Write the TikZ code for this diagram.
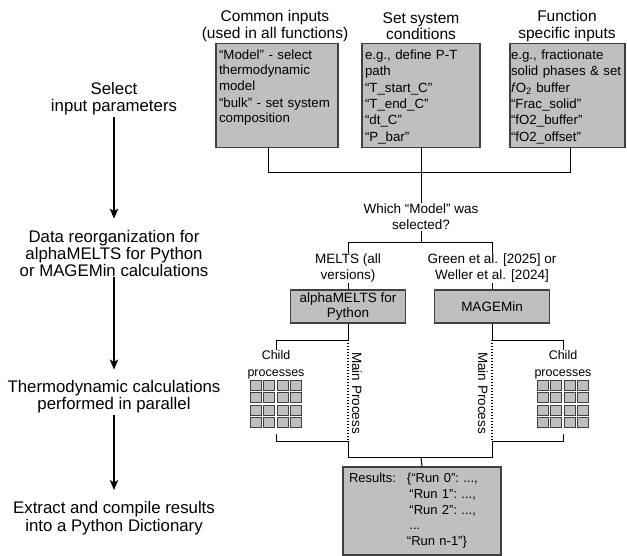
\documentclass[tikz,border=0pt]{standalone}
\usepackage{fontspec}
\setmainfont{Liberation Sans}
\usetikzlibrary{arrows.meta,positioning}

\begin{document}
\begin{tikzpicture}[x=1pt,y=-1pt,
        head/.style={align=center,inner sep=1pt,font=\fontsize{15.5}{16.5}\selectfont},
        step text/.style={align=center,inner sep=1pt,font=\fontsize{16.8}{17}\selectfont},
        lbl/.style={align=center,inner sep=0.5pt,font=\fontsize{13.5}{16}\selectfont},
        inputbox/.style={draw=black!75,line width=1.3pt,fill=gray!50,align=left,anchor=north,
            inner xsep=3pt,inner ysep=3pt,text height=13pt,text depth=85pt,
            font=\fontsize{13.3}{16.3}\selectfont},
        codebox/.style={draw=black!75,line width=1.3pt,fill=gray!50,align=center,
            minimum width=115pt,minimum height=33pt,inner sep=1pt,font=\fontsize{13.5}{15}\selectfont},
        cell/.style={draw=black!75,line width=1pt,fill=gray!50,minimum width=11pt,
            minimum height=10pt,inner sep=0pt},
        flow/.style={-{Stealth[length=10pt,width=8.5pt,inset=2.5pt]},line width=1.3pt,shorten >=10pt},
        wire/.style={line width=1pt}]
    \useasboundingbox (0,0) rectangle (627,556);

    % left column: the steps
    \node[step text] (sel) at (114,99) {Select\\input parameters};
    \node[step text] (reorg) at (114,253) {Data reorganization for\\alphaMELTS for Python\\or MAGEMin calculations};
    \node[step text] (thermo) at (114,397) {Thermodynamic calculations\\performed in parallel};
    \node[step text] (extract) at (114,518) {Extract and compile results\\[1pt]into a Python Dictionary};
    \draw[flow] (sel.south) -- (reorg.north);
    \draw[flow] (reorg.south) -- (thermo.north);
    \draw[flow] (thermo.south) -- (extract.north);

    % inputs
    \node[head] (common) at (275,26) {Common inputs\\(used in all functions)};
    \node[head] (system) at (421,26) {Set system\\conditions};
    \node[head] (special) at (567,26) {Function\\specific inputs};
    \node[inputbox,text width=116pt,font=\fontsize{13.3}{15.2}\selectfont] (box1) at (277,43)
        {“Model” - select\\thermodynamic\\model\\[2.5pt]“bulk” - set system\\composition};
    \node[inputbox,text width=112pt] (box2) at (421,43)
        {e.g., define P-T\\path\\“T\_start\_C”\\“T\_end\_C”\\“dt\_C”\\“P\_bar”};
    \node[inputbox,text width=113pt,inner xsep=1pt] (box3) at (567.5,43)
        {e.g., fractionate\\solid phases \& set\\\textit{f}O\textsubscript{2} buffer\\“Frac\_solid”\\“fO2\_buffer”\\“fO2\_offset”};

    \coordinate (j1) at (268,173);
    \coordinate (j3) at (570,173);
    \draw[wire] (box1.south -| j1) -- (j1) -- (j3) -- (box3.south -| j3);

    % which model
    \node[lbl] (which) at (421,217) {Which “Model” was\\selected?};
    \draw[wire] (box2.south) -- (which.north);
    \coordinate (jm) at (421,243);
    \coordinate (jl) at (348,243);
    \coordinate (jr) at (492,243);
    \node[lbl] (melts) at (348,268) {MELTS (all\\versions)};
    \node[lbl] (green) at (492,268) {Green et al. [2025] or\\Weller et al. [2024]};
    \draw[wire] (which.south) -- (jm);
    \draw[wire] (melts.north) -- (jl) -- (jr) -- (green.north);
    \node[codebox] (amp) at (348,306.5) {alphaMELTS for\\Python};
    \node[codebox] (mag) at (492,306.5) {MAGEMin};
    \draw[wire] (melts.south) -- (amp.north);
    \draw[wire] (green.south) -- (mag.north);

    % child processes
    \node[lbl,font=\fontsize{12.5}{16.5}\selectfont] (childl) at (276,365) {Child\\processes};
    \node[lbl,font=\fontsize{12.5}{16.5}\selectfont] (childr) at (563,365) {Child\\processes};
    \foreach \i in {0,...,3}
        \foreach \j in {0,...,3} {
            \node[cell] (gl\i\j) at (255.75+13.5*\i,385+12.5*\j) {};
            \node[cell] (gr\i\j) at (542.75+13.5*\i,385+12.5*\j) {};
        }
    \coordinate (al) at (348,340);
    \coordinate (cl) at (276,340);
    \coordinate (ar) at (492,340);
    \coordinate (cr) at (563,340);
    \draw[wire] (amp.south) -- (al) -- (cl) -- (childl.north);
    \draw[wire] (mag.south) -- (ar) -- (cr) -- (childr.north);
    \draw[wire,dotted,line width=1.2pt] (al) -- (348,441);
    \draw[wire,dotted,line width=1.2pt] (ar) -- (492,441);
    \node[lbl,rotate=-90] (mainl) at (357,393) {Main Process};
    \node[lbl,rotate=-90] (mainr) at (483,393) {Main Process};

    % results
    \coordinate (bl) at (348,457);
    \coordinate (br) at (492,457);
    \coordinate (bm) at (421,457);
    \draw[wire] (276,434) |- (348,441) -- (bl) -- (br) -- (492,441) -| (563,434);
    \node[codebox,minimum height=88pt,text width=146pt,inner xsep=6pt,align=left,
            font=\fontsize{13}{15.75}\selectfont\frenchspacing] (res) at (422,511)
        {\begin{tabular}{@{}l@{\hspace{11pt}}l@{}}
            Results: & \{“Run 0”: ...,\\
                     & \hspace{2.5pt}“Run 1”: ...,\\
                     & \hspace{2.5pt}“Run 2”: ...,\\
                     & \hspace{2.5pt}...\\
                     & “Run n-1”\}
        \end{tabular}};
    \draw[wire] (bm) -- (res.north);
\end{tikzpicture}
\end{document}
